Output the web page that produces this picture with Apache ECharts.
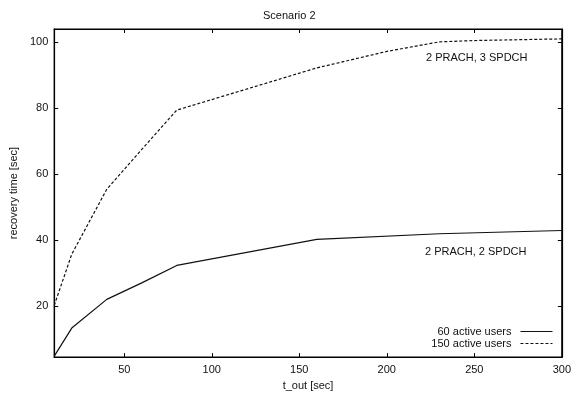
<!DOCTYPE html>
<html>
<head>
<meta charset="utf-8">
<script src="https://cdn.jsdelivr.net/npm/echarts@6/dist/echarts.min.js"></script>
<style>html,body{margin:0;padding:0;background:#fff}#c{width:574px;height:396px}</style>
</head>
<body>
<div id="c"></div>
<script>
const xTicks = [50, 100, 150, 200, 250, 300];
const yTicks = [20, 40, 60, 80, 100];
const users60 = [[10, 4.8], [20, 13.3], [40, 22.0], [60, 27.0], [80, 32.3], [160, 40.2], [230, 41.9], [300, 42.9]];
const users150 = [[10, 20.2], [20, 35.7], [40, 55.4], [60, 67.5], [80, 79.4], [160, 92.2], [200, 97.2], [230, 100.1], [250, 100.5], [300, 101.0]];
const seriesNames = ['60 active users', '150 active users'];
const chartTitle = 'Scenario 2';
const xName = 't_out [sec]';
const yName = 'recovery time [sec]';
const notes = ['2 PRACH, 3 SPDCH', '2 PRACH, 2 SPDCH'];

const FONT = 'Liberation Sans, Arial, sans-serif';
const chart = echarts.init(document.getElementById('c'), null, {renderer: 'canvas'});
const tickStyle = {show: true, inside: true, length: 4, lineStyle: {color: '#000', width: 1}};
chart.setOption({
  animation: false,
  backgroundColor: '#fff',
  title: {text: chartTitle, left: 258, top: 5,
    textStyle: {fontFamily: FONT, fontSize: 11, fontWeight: 'normal', color: '#111'}},
  grid: {left: 54, right: 9, top: 29, bottom: 37, show: true, borderColor: '#000', borderWidth: 1.2},
  legend: {
    orient: 'vertical', right: 16, bottom: 42, align: 'right', itemGap: 1,
    itemWidth: 32, itemHeight: 10,
    itemStyle: {opacity: 0},
    lineStyle: {width: 1.1},
    textStyle: {fontFamily: FONT, fontSize: 11, color: '#111', padding: [0, 4, 0, 0]},
    data: seriesNames
  },
  xAxis: [{
    type: 'value', min: 10, max: 300, position: 'bottom',
    name: xName, nameLocation: 'middle', nameGap: 18,
    nameTextStyle: {fontFamily: FONT, fontSize: 11, color: '#111'},
    axisLine: {show: true, lineStyle: {color: '#000', width: 1.2}},
    axisTick: Object.assign({customValues: xTicks}, tickStyle),
    axisLabel: {customValues: xTicks, margin: 7, fontFamily: FONT, fontSize: 11, color: '#111'},
    splitLine: {show: false}
  }, {
    type: 'value', min: 10, max: 300, position: 'top',
    axisLine: {show: true, lineStyle: {color: '#000', width: 1.2}},
    axisTick: Object.assign({customValues: xTicks}, tickStyle),
    axisLabel: {show: false}, splitLine: {show: false}
  }],
  yAxis: [{
    type: 'value', min: 4.5, max: 104, position: 'left',
    name: yName, nameLocation: 'middle', nameGap: 34,
    nameTextStyle: {fontFamily: FONT, fontSize: 11, color: '#111'},
    axisLine: {show: true, lineStyle: {color: '#000', width: 1.2}},
    axisTick: Object.assign({customValues: yTicks}, tickStyle),
    axisLabel: {customValues: yTicks, margin: 6, fontFamily: FONT, fontSize: 11, color: '#111'},
    splitLine: {show: false}
  }, {
    type: 'value', min: 4.5, max: 104, position: 'right',
    axisLine: {show: true, lineStyle: {color: '#000', width: 1.2}},
    axisTick: Object.assign({customValues: yTicks}, tickStyle),
    axisLabel: {show: false}, splitLine: {show: false}
  }],
  graphic: [
    {type: 'text', left: 426, top: 52, style: {text: notes[0], font: '11px ' + FONT, fill: '#111'}},
    {type: 'text', left: 425, top: 246, style: {text: notes[1], font: '11px ' + FONT, fill: '#111'}}
  ],
  series: [{
    name: seriesNames[0], type: 'line', data: users60, showSymbol: false, symbol: 'none',
    lineStyle: {color: '#111', width: 1.2, type: 'solid'}, itemStyle: {color: '#111'}
  }, {
    name: seriesNames[1], type: 'line', data: users150, showSymbol: false, symbol: 'none',
    lineStyle: {color: '#111', width: 1.2, type: [3, 2]}, itemStyle: {color: '#111'}
  }]
});
</script>
</body>
</html>
